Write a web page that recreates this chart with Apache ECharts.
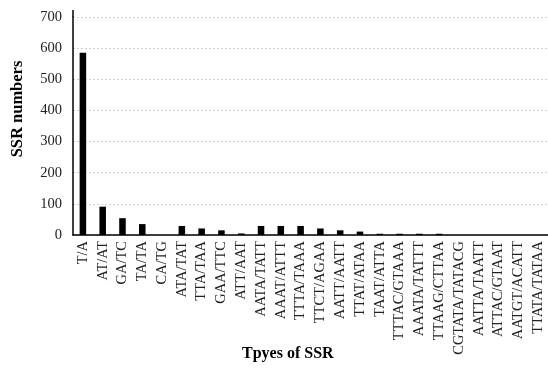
<!DOCTYPE html>
<html><head><meta charset="utf-8">
<script src="https://cdn.jsdelivr.net/npm/echarts@6/dist/echarts.min.js"></script>
<style>html,body{margin:0;padding:0;background:#fff}#c{width:548px;height:370px}</style>
</head><body><div id="c"></div>
<script>
const categories = ["T/A","AT/AT","GA/TC","TA/TA","CA/TG","ATA/TAT","TTA/TAA","GAA/TTC","ATT/AAT","AATA/TATT","AAAT/ATTT","TTTA/TAAA","TTCT/AGAA","AATT/AATT","TTAT/ATAA","TAAT/ATTA","TTTAC/GTAAA","AAATA/TATTT","TTAAG/CTTAA","CGTATA/TATACG","AATTA/TAATT","ATTAC/GTAAT","AATGT/ACATT","TTATA/TATAA"];
const ssrNumbers = [585,91,54,35,0,29,21,15,5,29,29,29,21,15,11,4,4,4,4,0,0,0,0,0];
const yTicks = [0,100,200,300,400,500,600,700];
const font = "'Liberation Serif','Times New Roman',serif";
const chart = echarts.init(document.getElementById('c'), null, {renderer:'canvas'});
chart.setOption({
  animation:false,
  grid:{left:73,right:0,top:17,bottom:135,containLabel:false},
  graphic:[
    {type:'text',left:242,top:346,style:{text:'Tpyes of SSR',font:"bold 16px 'Liberation Serif','Times New Roman',serif",fill:'#000'}},
    {type:'text',x:18,y:109,rotation:Math.PI/2,style:{text:'SSR numbers',font:"bold 16.5px 'Liberation Serif','Times New Roman',serif",fill:'#000',align:'center',verticalAlign:'middle'}},
    {type:'line',shape:{x1:73,y1:10,x2:73,y2:17},style:{stroke:'#000',lineWidth:1.5}}
  ],
  xAxis:{
    type:'category', data:categories,
    axisLine:{lineStyle:{color:'#000',width:1.5}},
    axisTick:{show:false},
    axisLabel:{rotate:90,interval:0,fontFamily:font,fontSize:14.5,color:'#222',margin:6}
  },
  yAxis:{
    type:'value', min:yTicks[0], max:yTicks[yTicks.length-1], interval:100,
    axisLine:{show:true,lineStyle:{color:'#000',width:1.5}},
    axisTick:{show:false},
    axisLabel:{fontFamily:font,fontSize:14.5,color:'#222',margin:11},
    splitLine:{lineStyle:{color:'#d0d0d0',type:[2,2],width:1}}
  },
  series:[{type:'bar',data:ssrNumbers,barWidth:'33%',itemStyle:{color:'#000'}}]
});
</script></body></html>
